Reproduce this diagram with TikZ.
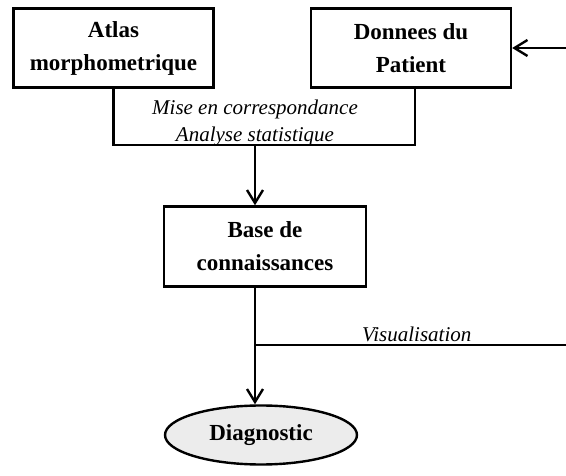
\documentclass[tikz,border=0pt]{standalone}
\usepackage{fontspec}
\setmainfont{Liberation Serif}
\usepackage{xcolor}
\usepackage{tikz}
\usetikzlibrary{shapes.geometric, arrows.meta, positioning}
\definecolor{diagfill}{RGB}{236,236,236}

\begin{document}
\begin{tikzpicture}[x=1pt, y=1pt, line width=2.4pt,
    box/.style={draw, rectangle, minimum width=200pt, minimum height=79pt, align=center,
        font=\fontsize{23}{33}\selectfont\bfseries},
    lbl/.style={align=center, inner sep=2pt, font=\fontsize{21}{27}\selectfont\itshape},
    flow/.style={-{Straight Barb[length=13pt, width=16pt]}}]
    \useasboundingbox (0,0) rectangle (566,475);
    % boites
    \node[box] (atlas) at (113.5,427) {Atlas\\morphometrique};
    \node[box] (donnees) at (411,427) {Donnees du\\Patient};
    \node[box, minimum width=202pt, minimum height=80pt] (base) at (265,228.5) {Base de\\connaissances};
    \node[draw, ellipse, fill=diagfill, minimum width=192pt, minimum height=59pt,
        font=\fontsize{23}{28}\selectfont\bfseries] (diag) at (261,40) {Diagnostic};
    % points de jonction
    \coordinate (corr) at (255,330);
    \coordinate (vis) at (255,130);
    \coordinate (visend) at (566,130);
    \coordinate (patient) at (566,427);
    % liens
    \draw (atlas.south) |- (corr) -| ([xshift=4pt]donnees.south);
    \node[lbl] (mise) at (255,352) {Mise en correspondance\\Analyse statistique};
    \draw[flow] (corr) -- (corr |- base.north);
    \draw[flow] (patient) -- (donnees.east);
    \draw (vis |- base.south) -- (vis);
    \draw[flow] (vis) -- (vis |- diag.north);
    \draw (vis) -- node[lbl, above, pos=0.52] (visu) {Visualisation} (visend);
\end{tikzpicture}
\end{document}
